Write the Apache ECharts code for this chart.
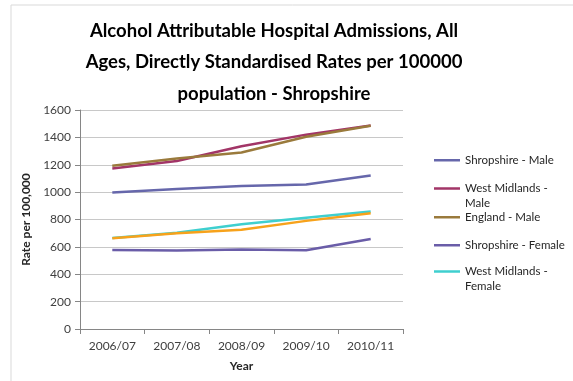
<!DOCTYPE html>
<html>
<head>
<meta charset="utf-8">
<script src="https://cdn.jsdelivr.net/npm/echarts@6/dist/echarts.min.js"></script>
<style>
  html, body { margin: 0; padding: 0; background: #fff; }
  #chart { width: 573px; height: 381px; }
</style>
</head>
<body>
<div id="chart"></div>
<script>
// Financial years on the category axis
const years = ['2006/07', '2007/08', '2008/09', '2009/10', '2010/11'];

// Directly standardised admission rates per 100,000 population
const shropshireMale = [998, 1022, 1045, 1055, 1122];
const westMidlandsMale = [1172, 1228, 1335, 1420, 1487];
const englandMale = [1193, 1245, 1290, 1405, 1485];
const shropshireFemale = [578, 574, 580, 575, 658];
const westMidlandsFemale = [665, 703, 765, 812, 858];
const englandFemale = [663, 700, 725, 790, 845];

// Value axis ticks
const yTicks = [0, 200, 400, 600, 800, 1000, 1200, 1400, 1600];

const FONT = 'Lato, "Open Sans", sans-serif';

// Legend rows: "mid" is the vertical centre of the swatch / first text line
const seriesDefs = [
  { name: 'Shropshire - Male', label: 'Shropshire - Male', data: shropshireMale, color: '#6667AB', mid: 159, lines: 1 },
  { name: 'West Midlands - Male', label: 'West Midlands -\nMale', data: westMidlandsMale, color: '#A23567', mid: 188, lines: 2 },
  { name: 'England - Male', label: 'England - Male', data: englandMale, color: '#9A7A3C', mid: 216, lines: 1 },
  { name: 'Shropshire - Female', label: 'Shropshire - Female', data: shropshireFemale, color: '#6A5DA8', mid: 244, lines: 1 },
  { name: 'West Midlands - Female', label: 'West Midlands -\nFemale', data: westMidlandsFemale, color: '#3FCFCF', mid: 271, lines: 2 },
  { name: 'England - Female', label: null, data: englandFemale, color: '#F7A21B' }
];

const LINE_H = 14.5;

// Wrapped labels get an empty leading line so the first text line sits level with the swatch
const legends = seriesDefs.filter(s => s.label).map(s => ({
  orient: 'vertical',
  left: 429,
  top: s.lines === 2 ? s.mid - 1.5 * LINE_H - 4.5 : s.mid - 11,
  itemWidth: 26,
  itemHeight: 14,
  icon: 'path://M0,0 L26,0 L26,2.5 L0,2.5 Z',
  selectedMode: false,
  data: [s.name],
  formatter: () => (s.lines === 2 ? ' \n' + s.label : s.label),
  textStyle: {
    fontFamily: FONT,
    fontSize: 11.5,
    color: '#262626',
    lineHeight: LINE_H
  }
}));

const chart = echarts.init(document.getElementById('chart'), null, { renderer: 'canvas' });

chart.setOption({
  backgroundColor: '#ffffff',
  animation: false,
  title: {
    text: 'Alcohol Attributable Hospital Admissions, All\nAges, Directly Standardised Rates per 100000\npopulation - Shropshire',
    left: 269,
    top: 10,
    textAlign: 'center',
    textStyle: {
      fontFamily: FONT,
      fontSize: 18.5,
      fontWeight: 'bold',
      color: '#000000',
      lineHeight: 31.5
    }
  },
  graphic: [{
    type: 'rect',
    shape: { x: 11, y: 5, width: 700, height: 500 },
    style: { fill: 'none', stroke: '#d9d9d9', lineWidth: 1 },
    silent: true
  }],
  legend: legends,
  grid: { left: 80, top: 110, width: 323, height: 219, containLabel: false },
  xAxis: {
    type: 'category',
    data: years,
    boundaryGap: true,
    name: 'Year',
    nameLocation: 'middle',
    nameGap: 31,
    nameTextStyle: { fontFamily: FONT, fontSize: 12, fontWeight: 'bold', color: '#262626' },
    axisLine: { lineStyle: { color: '#868686', width: 1 } },
    axisTick: { show: true, alignWithLabel: false, interval: 0, length: 5, lineStyle: { color: '#868686' } },
    axisLabel: { fontFamily: FONT, fontSize: 12, color: '#404040', margin: 11, interval: 0 }
  },
  yAxis: {
    type: 'value',
    min: yTicks[0],
    max: yTicks[yTicks.length - 1],
    interval: yTicks[1] - yTicks[0],
    name: 'Rate per 100,000',
    nameLocation: 'middle',
    nameGap: 28,
    nameRotate: 90,
    nameTextStyle: { fontFamily: FONT, fontSize: 12, fontWeight: 'bold', color: '#262626' },
    axisLine: { show: true, lineStyle: { color: '#868686', width: 1 } },
    axisTick: { show: true, length: 5, lineStyle: { color: '#868686' } },
    axisLabel: { fontFamily: FONT, fontSize: 12, color: '#404040', margin: 9, formatter: v => String(v) },
    splitLine: { lineStyle: { color: '#c8c8c8', width: 1 } }
  },
  series: seriesDefs.map(s => ({
    name: s.name,
    type: 'line',
    data: s.data,
    showSymbol: false,
    symbol: 'none',
    lineStyle: { color: s.color, width: 2.5 },
    itemStyle: { color: s.color },
    emphasis: { disabled: true }
  }))
});
</script>
</body>
</html>
